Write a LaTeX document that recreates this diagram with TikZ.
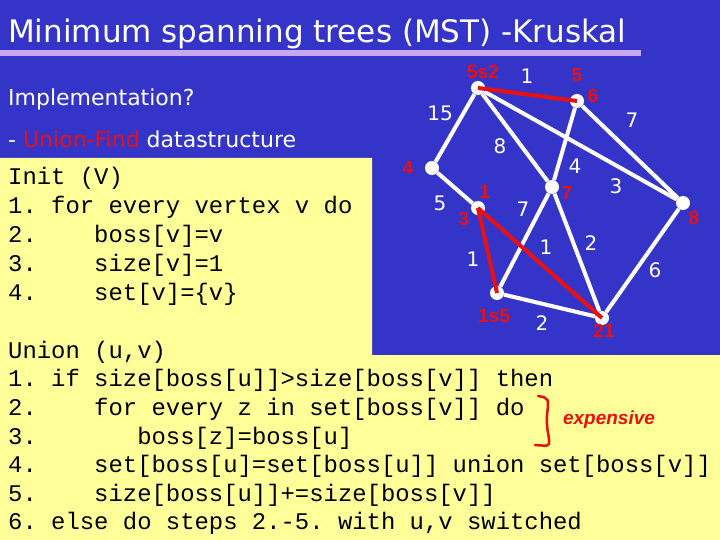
\documentclass[tikz,border=0pt]{standalone}
\usepackage{fontspec}
\setmainfont{DejaVu Sans}
\newfontfamily\codefont{Liberation Mono}
\newfontfamily\hand{Liberation Sans}
\definecolor{bgblue}{HTML}{3434C8}
\definecolor{pale}{HTML}{FFFF99}
\definecolor{lav}{HTML}{C8A8F0}
\definecolor{hred}{HTML}{E81010}
\begin{document}
\begin{tikzpicture}[x=1pt,y=-1pt,
  vert/.style={circle,fill=white,inner sep=0pt,minimum size=14pt},
  edge/.style={white,line width=4pt},
  tedge/.style={hred,line width=4pt},
  wl/.style={text=white,font=\fontsize{20}{20}\selectfont},
  rl/.style={text=hred,font=\fontsize{19}{19}\selectfont\hand\bfseries},
  code/.style={anchor=base west,inner sep=0pt,font=\fontsize{23.9}{24}\selectfont\codefont}]
\fill[bgblue] (0,0) rectangle (720,540);
\useasboundingbox (0,0) rectangle (720,540);
\fill[pale] (0,158) -- (372,158) -- (372,355) -- (720,355) -- (720,540) -- (0,540) -- cycle;
\fill[lav] (0,50) rectangle (641,56);
\node[anchor=base west,inner sep=0pt,text=white,font=\fontsize{31}{31}\selectfont] (title) at (8,43) {Minimum spanning trees (MST) -Kruskal};
\node[anchor=base west,inner sep=0pt,text=white,font=\fontsize{22}{22}\selectfont] (impl) at (8,106) {Implementation?};
\node[anchor=base west,inner sep=0pt,text=white,font=\fontsize{22}{22}\selectfont] (uf) at (8,148) {- \textcolor{hred}{Union-Find} datastructure};
% graph
\node[vert] (A) at (478,88) {};
\node[vert] (B) at (577,101) {};
\node[vert] (C) at (432,168) {};
\node[vert] (D) at (552,187) {};
\node[vert] (E) at (478,208) {};
\node[vert] (F) at (497,293) {};
\node[vert] (G) at (602,318) {};
\node[vert] (H) at (683,203) {};
\draw[edge] (A) -- (C);
\draw[edge] (A) -- (D);
\draw[edge] (A) -- (H);
\draw[edge] (B) -- (H);
\draw[edge] (B) -- (D);
\draw[edge] (C) -- (E);
\draw[edge] (D) -- (F);
\draw[edge] (D) -- (G);
\draw[edge] (F) -- (G);
\draw[edge] (H) -- (G);
\draw[tedge] (A.center) -- (B.center);
\draw[tedge] (E.center) -- (F.center);
\draw[tedge] (E.center) -- (G.center);
\node[wl] (l1) at (527,76) {1};
\node[wl] (l15) at (440,113) {15};
\node[wl] (l8) at (500,146) {8};
\node[wl] (l7a) at (632,120) {7};
\node[wl] (l4) at (575,166) {4};
\node[wl] (l3) at (616,186) {3};
\node[wl] (l5) at (440,203) {5};
\node[wl] (l7b) at (523,209) {7};
\node[wl] (l1b) at (473,259) {1};
\node[wl] (l1c) at (546,247) {1};
\node[wl] (l2a) at (591,243) {2};
\node[wl] (l6) at (655,270) {6};
\node[wl] (l2b) at (542,323) {2};
% handwritten annotations
\node[rl] (rA) at (483,72) {5s2};
\node[rl] (rB1) at (577,75) {5};
\node[rl] (rB2) at (593,96) {6};
\node[rl] (rC) at (408,168) {4};
\node[rl] (rE1) at (485,192) {1};
\node[rl] (rE2) at (464,219) {3};
\node[rl] (rD) at (567,193) {7};
\node[rl] (rH) at (694,218) {8};
\node[rl] (rF) at (494,316) {1s5};
\node[rl] (rG) at (604,331) {21};
% code
\node[code] (i0) at (8,185) {Init~(V)};
\node[code] (i1) at (8,214) {1.~for~every~vertex~v~do};
\node[code] (i2) at (8,243) {2.~~~~boss[v]=v};
\node[code] (i3) at (8,271) {3.~~~~size[v]=1};
\node[code] (i4) at (8,300) {4.~~~~set[v]=\{v\}};
\node[code] (u0) at (8,358) {Union~(u,v)};
\node[code] (u1) at (8,386) {1.~if~size[boss[u]]>size[boss[v]]~then};
\node[code] (u2) at (8,415) {2.~~~~for~every~z~in~set[boss[v]]~do};
\node[code] (u3) at (8,444) {3.~~~~~~~boss[z]=boss[u]};
\node[code] (u4) at (8,472) {4.~~~~set[boss[u]=set[boss[u]]~union~set[boss[v]]};
\node[code] (u5) at (8,501) {5.~~~~size[boss[u]]+=size[boss[v]]};
\node[code] (u6) at (8,529) {6.~else~do~steps~2.-5.~with~u,v~switched};
\draw[hred,line width=2.5pt,line cap=round] (538,396) .. controls (549,398) .. (547,415) .. controls (546,430) and (550,438) .. (549,444) .. controls (548,446) .. (535,445);
\node[rl,font=\fontsize{19}{19}\selectfont\hand\bfseries\itshape] (exp) at (609,420) {expensive};
\end{tikzpicture}
\end{document}
